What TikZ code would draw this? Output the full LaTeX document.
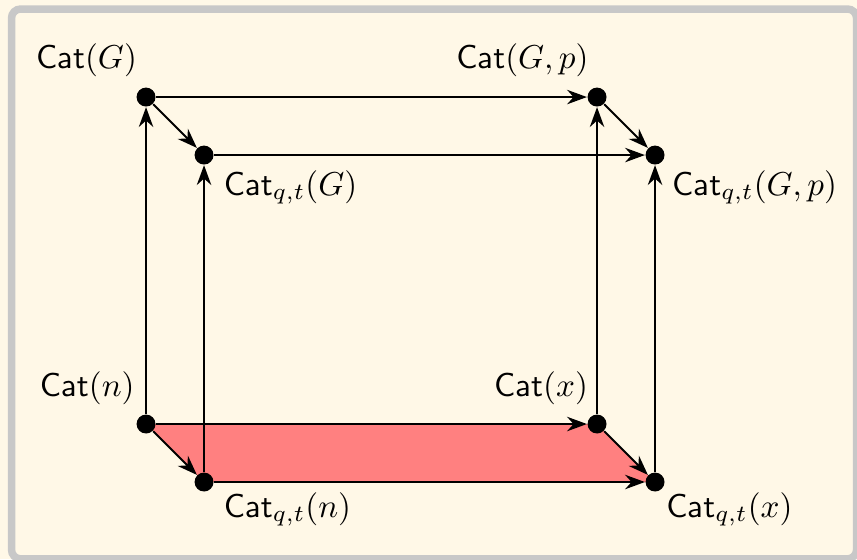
\documentclass[tikz,border=0pt]{standalone}
\usepackage{amsmath,amssymb}
\usepackage{tikz}
\usetikzlibrary{arrows.meta,backgrounds}
\definecolor{cPaper}{HTML}{FFF8E7}
\definecolor{cFrame}{HTML}{C8C8C8}
\definecolor{cFace}{HTML}{FF8080}

\begin{document}
\begin{tikzpicture}[
  x=1mm,y=1mm,
  dot/.style={circle,fill=black,inner sep=0pt,minimum size=2.1mm},
  lab/.style={inner sep=0pt,scale=1.045},
  a/.style={-{Stealth[length=2.2mm,width=1.6mm]},draw=black,line width=0.6pt},
  frame/.style={draw=cFrame,line width=0.83mm,rounded corners=1mm},
]
\useasboundingbox (-16.19,-14.97) rectangle (78.82,47.01);
\begin{scope}[on background layer]
  \fill[cPaper] (-16.19,-14.97) rectangle (78.82,47.01);
  \draw[frame] (-14.91,-14.95) rectangle (78.77,46.01);
\end{scope}

% back square
\node[dot] (catG)  at (0,36.25) {};
\node[dot] (catGp) at (50,36.25) {};
\node[dot] (catn)  at (0,0) {};
\node[dot] (catx)  at (50,0) {};
% front square
\node[dot] (catqG)  at (6.43,29.82) {};
\node[dot] (catqGp) at (56.43,29.82) {};
\node[dot] (catqn)  at (6.43,-6.43) {};
\node[dot] (catqx)  at (56.43,-6.43) {};

\node[lab,anchor=base east] (lG)  at (-0.94,39.41) {$\mathsf{Cat}(G)$};
\node[lab,anchor=base east] (lGp) at (49.13,39.41) {$\mathsf{Cat}(G,p)$};
\node[lab,anchor=base east] (ln)  at (-1.2,3.1) {$\mathsf{Cat}(n)$};
\node[lab,anchor=base east] (lx)  at (49.06,3.1) {$\mathsf{Cat}(x)$};
\node[lab,anchor=base west] (lqG)  at (8.56,25.39) {$\mathsf{Cat}_{q,t}(G)$};
\node[lab,anchor=base west] (lqGp) at (58.26,25.39) {$\mathsf{Cat}_{q,t}(G,p)$};
\node[lab,anchor=base west] (lqn)  at (8.56,-10.31) {$\mathsf{Cat}_{q,t}(n)$};
\node[lab,anchor=base west] (lqx)  at (57.6,-10.31) {$\mathsf{Cat}_{q,t}(x)$};

\begin{scope}[on background layer]
  \fill[cFace] (catn.center) -- (catx.center) -- (catqx.center) -- (catqn.center) -- cycle;
\end{scope}

\draw[a] (catG) -- (catGp);
\draw[a] (catqG) -- (catqGp);
\draw[a] (catn) -- (catx);
\draw[a] (catqn) -- (catqx);

\draw[a] (catn) -- (catG);
\draw[a] (catqn) -- (catqG);
\draw[a] (catx) -- (catGp);
\draw[a] (catqx) -- (catqGp);

\draw[a] (catG) -- (catqG);
\draw[a] (catGp) -- (catqGp);
\draw[a] (catn) -- (catqn);
\draw[a] (catx) -- (catqx);
\end{tikzpicture}
\end{document}
